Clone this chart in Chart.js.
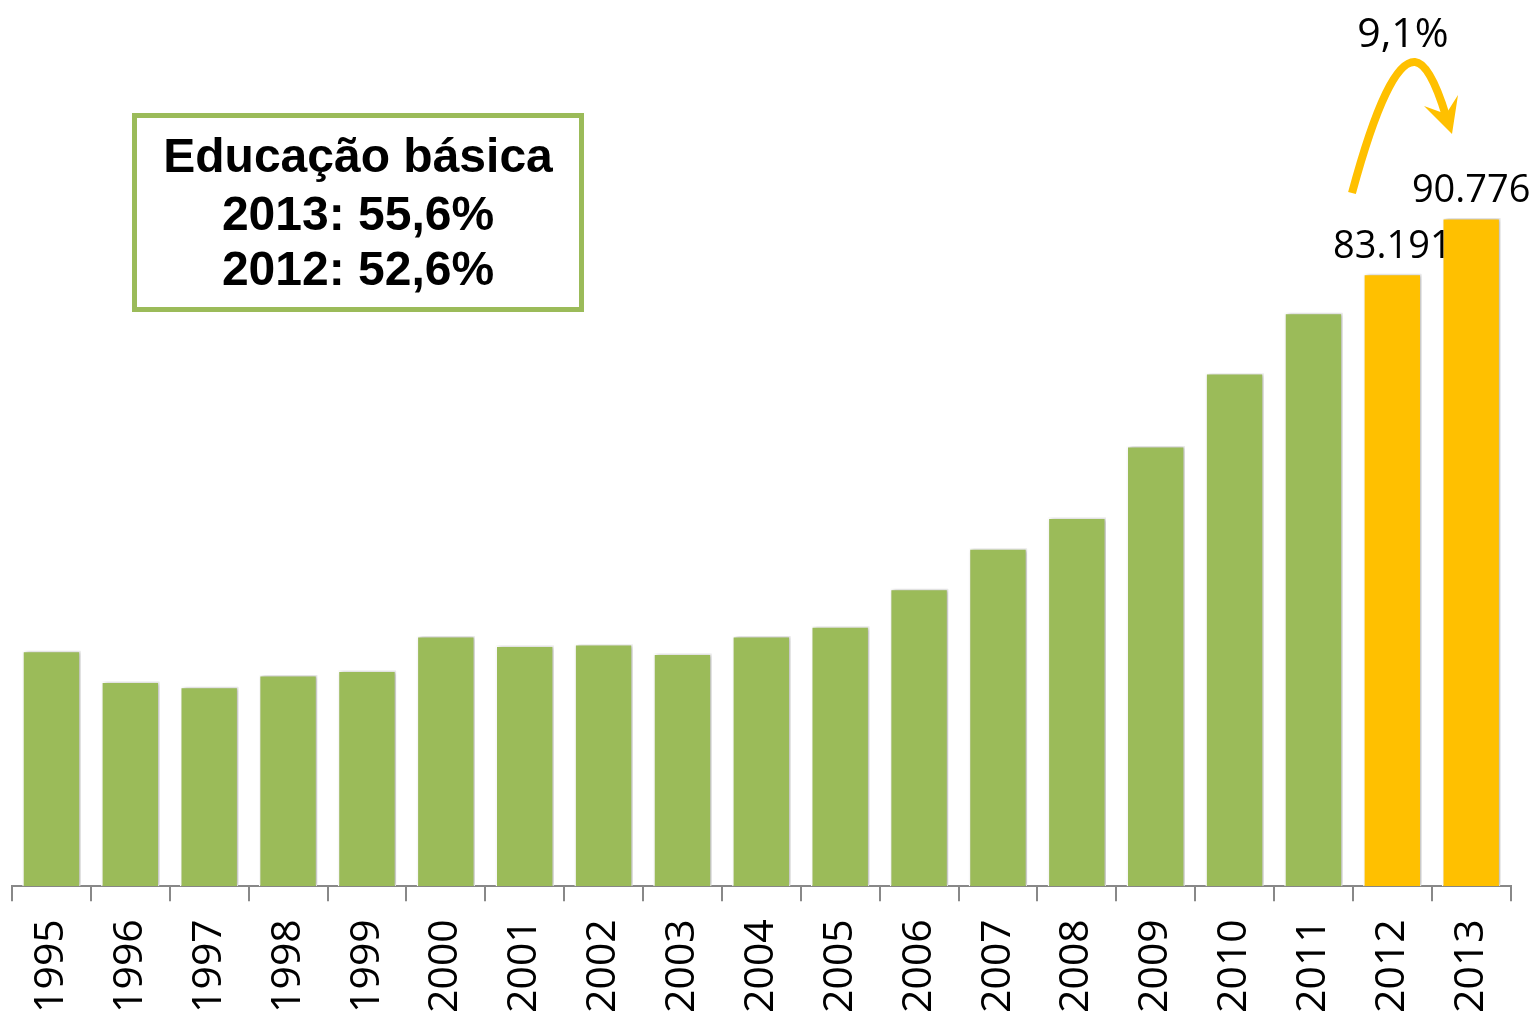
<!DOCTYPE html>
<html>
<head>
<meta charset="utf-8">
<script src="https://cdn.jsdelivr.net/npm/chart.js@4/dist/chart.umd.min.js"></script>
<style>
  html, body { margin: 0; padding: 0; background: #fff; overflow: hidden; }
  #wrap { width: 1539px; height: 1014px; position: relative; }
</style>
</head>
<body>
<div id="wrap"><canvas id="chart"></canvas></div>
<script>
// anos e matrículas (educação básica)
var anos    = ["1995","1996","1997","1998","1999","2000","2001","2002","2003","2004",
               "2005","2006","2007","2008","2009","2010","2011","2012","2013"];
var valores = [32000, 27800, 27100, 28700, 29300, 34000, 32700, 32900, 31600, 34000,
               35300, 40400, 45900, 50100, 59800, 69700, 77900, 83191, 90776];
var destaque   = ["2012", "2013"];            // barras em laranja
var caixaTexto = ["Educação básica", "2013: 55,6%", "2012: 52,6%"];
var variacao   = "9,1%";

var VERDE   = "#9BBB59";
var LARANJA = "#FFC000";

var cores = anos.map(function(a) { return destaque.indexOf(a) >= 0 ? LARANJA : VERDE; });

// sombra leve nas barras
var sombraPlugin = {
  id: "sombra",
  beforeDatasetsDraw: function(chart) {
    var ctx = chart.ctx;
    ctx.save();
    ctx.shadowColor = "rgba(0,0,0,0.28)";
    ctx.shadowBlur = 4;
    ctx.shadowOffsetX = 2;
    ctx.shadowOffsetY = 0;
  },
  afterDatasetsDraw: function(chart) { chart.ctx.restore(); }
};

// rótulos, caixa e seta
var anotacoes = {
  id: "anotacoes",
  afterDraw: function(chart) {
    var ctx  = chart.ctx;
    var meta = chart.getDatasetMeta(0);

    // valores acima das barras em destaque
    ctx.save();
    ctx.fillStyle = "#000";
    ctx.font = "38px 'Open Sans'";
    ctx.textAlign = "center";
    ctx.textBaseline = "alphabetic";
    destaque.forEach(function(a) {
      var i = anos.indexOf(a);
      var bar = meta.data[i];
      ctx.fillText(valores[i].toLocaleString("pt-BR"), bar.x, bar.y - 16);
    });
    ctx.restore();

    // caixa de texto
    ctx.save();
    ctx.strokeStyle = VERDE;
    ctx.lineWidth = 5;
    ctx.fillStyle = "#fff";
    ctx.fillRect(134.5, 115.5, 447, 194);
    ctx.strokeRect(134.5, 115.5, 447, 194);
    ctx.fillStyle = "#000";
    ctx.font = "bold 48px 'Liberation Sans', Arial";
    ctx.textAlign = "center";
    ctx.fillText(caixaTexto[0], 358, 172);
    ctx.fillText(caixaTexto[1], 358, 230);
    ctx.fillText(caixaTexto[2], 358, 285);
    ctx.restore();

    // seta curva 2012 -> 2013
    ctx.save();
    ctx.strokeStyle = LARANJA;
    ctx.fillStyle = LARANJA;
    ctx.lineWidth = 8;
    ctx.lineCap = "butt";
    ctx.beginPath();
    ctx.moveTo(1352, 193);
    ctx.quadraticCurveTo(1388, 60, 1415, 62);
    ctx.quadraticCurveTo(1430, 63, 1446, 116);
    ctx.stroke();
    ctx.beginPath();
    ctx.moveTo(1452, 134);
    ctx.lineTo(1424, 106);
    ctx.lineTo(1446, 114);
    ctx.lineTo(1458, 95);
    ctx.closePath();
    ctx.fill();
    ctx.fillStyle = "#000";
    ctx.font = "41px 'Open Sans'";
    ctx.textAlign = "center";
    ctx.fillText(variacao, 1403, 47);
    ctx.restore();
  }
};

new Chart(document.getElementById("chart"), {
  type: "bar",
  data: {
    labels: anos,
    datasets: [{
      data: valores,
      backgroundColor: cores,
      borderColor: "#fff",
      borderWidth: 1.5,
      barPercentage: 0.74,
      categoryPercentage: 1
    }]
  },
  options: {
    responsive: true,
    maintainAspectRatio: false,
    animation: false,
    devicePixelRatio: 1,
    layout: { padding: { left: 12, right: 23, top: 150, bottom: -17 } },
    plugins: { legend: { display: false }, tooltip: { enabled: false } },
    scales: {
      x: {
        grid: { drawOnChartArea: false, drawTicks: true, tickLength: 15, color: "#888", lineWidth: 2 },
        border: { display: true, color: "#888", width: 2 },
        ticks: {
          minRotation: 90, maxRotation: 90, padding: 18,
          color: "#000", font: { family: "'Open Sans'", size: 41 }
        }
      },
      y: { display: false, min: 0, max: 100000 }
    }
  },
  plugins: [sombraPlugin, anotacoes]
});
</script>
</body>
</html>
